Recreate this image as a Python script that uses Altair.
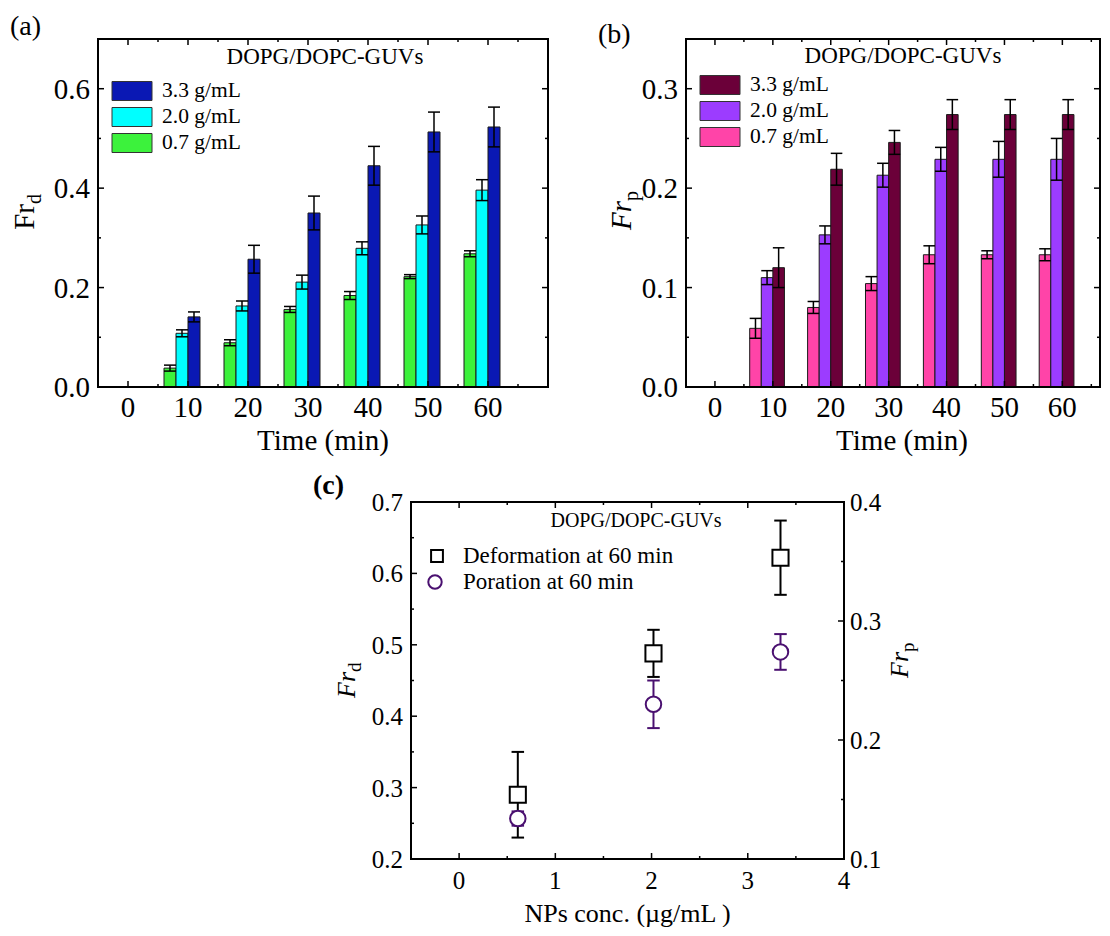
import altair as alt
import pandas as pd

SERIF = "Liberation Serif"

# ---------------- data ----------------
times = [10, 20, 30, 40, 50, 60]
conc_labels = ["0.7 g/mL", "2.0 g/mL", "3.3 g/mL"]

frd_07 = [0.038, 0.089, 0.156, 0.184, 0.222, 0.268]
frd_07_err = [0.006, 0.006, 0.006, 0.008, 0.004, 0.006]
frd_20 = [0.108, 0.163, 0.211, 0.279, 0.326, 0.396]
frd_20_err = [0.007, 0.010, 0.014, 0.013, 0.018, 0.021]
frd_33 = [0.141, 0.257, 0.350, 0.445, 0.513, 0.523]
frd_33_err = [0.010, 0.028, 0.034, 0.039, 0.040, 0.040]

frp_07 = [0.059, 0.080, 0.104, 0.133, 0.133, 0.133]
frp_07_err = [0.010, 0.006, 0.007, 0.009, 0.004, 0.006]
frp_20 = [0.110, 0.153, 0.213, 0.229, 0.229, 0.229]
frp_20_err = [0.007, 0.009, 0.012, 0.012, 0.018, 0.021]
frp_33 = [0.120, 0.219, 0.246, 0.274, 0.274, 0.274]
frp_33_err = [0.020, 0.016, 0.012, 0.015, 0.015, 0.015]

np_conc = [0.61, 2.02, 3.34]
frd_60 = [0.290, 0.488, 0.622]
frd_60_err = [0.060, 0.033, 0.052]
frp_60 = [0.134, 0.230, 0.274]
frp_60_err = [0.006, 0.020, 0.015]

time_ticks = [0, 10, 20, 30, 40, 50, 60]
time_minor = [5, 15, 25, 35, 45, 55, 65]
a_yticks = [0.0, 0.2, 0.4, 0.6]
a_yminor = [0.1, 0.3, 0.5]
b_yticks = [0.0, 0.1, 0.2, 0.3]
b_yminor = [0.05, 0.15, 0.25]
c_xticks = [0, 1, 2, 3, 4]
c_xminor = [0.5, 1.5, 2.5, 3.5]
c_ylticks = [0.2, 0.3, 0.4, 0.5, 0.6, 0.7]
c_ylminor = [0.25, 0.35, 0.45, 0.55, 0.65]
c_yrticks = [0.1, 0.2, 0.3, 0.4]
c_yrminor = [0.15, 0.25, 0.35]

colors_a = ["#3cf23c", "#00ffff", "#0a18b4"]
colors_b = ["#ff44a8", "#9c3cff", "#6b0039"]
PURPLE = "#4a1070"

# panel geometry (pixels, relative to plot origin)
PA = dict(x0=0, x1=450, y0=0, y1=348)
PB = dict(x0=588, x1=1002, y0=0, y1=348)
PC = dict(x0=313, x1=746, y0=463, y1=820)

dummy = pd.DataFrame({"a": [0]})


def txt(s, x, y, size, **kw):
    return alt.Chart(dummy).mark_text(text=s, fontSize=size, font=SERIF, color="black", **kw).encode(
        x=alt.value(x), y=alt.value(y))


def sc(dom, rng):
    return alt.Scale(domain=dom, range=rng, nice=False, zero=False)


def ticks(xs, ys, P, xmaj, xmin, ymaj, ymin, sides, L=6, l=3):
    out = []
    for vals, ln in ((xmaj, L), (xmin, l)):
        if not vals:
            continue
        base = alt.Chart(pd.DataFrame({"v": vals}))
        if "bottom" in sides:
            out.append(base.mark_rule(color="black", strokeWidth=1.5).encode(
                x=alt.X("v:Q", scale=xs, axis=None), y=alt.value(P["y1"]), y2=alt.value(P["y1"] - ln)))
        if "top" in sides:
            out.append(base.mark_rule(color="black", strokeWidth=1.5).encode(
                x=alt.X("v:Q", scale=xs, axis=None), y=alt.value(P["y0"]), y2=alt.value(P["y0"] + ln)))
    for vals, ln in ((ymaj, L), (ymin, l)):
        if not vals:
            continue
        base = alt.Chart(pd.DataFrame({"v": vals}))
        if "left" in sides:
            out.append(base.mark_rule(color="black", strokeWidth=1.5).encode(
                y=alt.Y("v:Q", scale=ys, axis=None), x=alt.value(P["x0"]), x2=alt.value(P["x0"] + ln)))
        if "right" in sides:
            out.append(base.mark_rule(color="black", strokeWidth=1.5).encode(
                y=alt.Y("v:Q", scale=ys, axis=None), x=alt.value(P["x1"]), x2=alt.value(P["x1"] - ln)))
    return out


def xlabels(xs, vals, y, size, fmt):
    return alt.Chart(pd.DataFrame({"v": vals})).mark_text(
        fontSize=size, font=SERIF, color="black", align="center", baseline="alphabetic").encode(
        x=alt.X("v:Q", scale=xs, axis=None), y=alt.value(y), text=alt.Text("v:Q", format=fmt))


def ylabels(ys, vals, x, size, align, dy):
    return alt.Chart(pd.DataFrame({"v": vals})).mark_text(
        fontSize=size, font=SERIF, color="black", align=align, baseline="middle", dy=dy).encode(
        y=alt.Y("v:Q", scale=ys, axis=None), x=alt.value(x), text=alt.Text("v:Q", format=".1f"))


def frame(xs, ys, xdom, ydom):
    df = pd.DataFrame({"x0": [xdom[0]], "x1": [xdom[1]], "y0": [ydom[0]], "y1": [ydom[1]]})
    return alt.Chart(df).mark_rect(fillOpacity=0, stroke="black", strokeWidth=2).encode(
        x=alt.X("x0:Q", scale=xs, axis=None), x2="x1:Q", y=alt.Y("y0:Q", scale=ys, axis=None), y2="y1:Q")


def bar_panel(P, vals_list, errs_list, colors, xdom, ydom, yvals, yminor, italic, panel_label,
              label_y, title_x, title_y, legend_top, ytitle, time_title_x):
    rows = []
    for k, (vals, errs) in enumerate(zip(vals_list, errs_list)):
        for t, v, e in zip(times, vals, errs):
            rows.append(dict(series=conc_labels[k], k=k, t=t, v=v, e=e))
    df = pd.DataFrame(rows)
    xs = sc(xdom, [P["x0"], P["x1"]])
    ys = sc(ydom, [P["y1"], P["y0"]])
    base = alt.Chart(df).transform_calculate(
        x0="datum.t + 2*datum.k - 4", x1="datum.t + 2*datum.k - 2", xc="datum.t + 2*datum.k - 3",
        lo="datum.v - datum.e", hi="datum.v + datum.e", zero="0")
    bars = base.mark_rect(stroke="#1a1a1a", strokeWidth=1).encode(
        x=alt.X("x0:Q", scale=xs, axis=None), x2="x1:Q",
        y=alt.Y("v:Q", scale=ys, axis=None), y2="zero:Q",
        color=alt.Color("series:N", scale=alt.Scale(domain=conc_labels, range=colors), legend=None))
    err = base.mark_rule(color="black", strokeWidth=1.5).encode(
        x=alt.X("xc:Q", scale=xs, axis=None), y=alt.Y("lo:Q", scale=ys, axis=None), y2="hi:Q")
    cap_hi = base.mark_rule(color="black", strokeWidth=1.5).encode(
        x=alt.X("x0:Q", scale=xs, axis=None), x2="x1:Q", y=alt.Y("hi:Q", scale=ys, axis=None))
    cap_lo = base.mark_rule(color="black", strokeWidth=1.5).encode(
        x=alt.X("x0:Q", scale=xs, axis=None), x2="x1:Q", y=alt.Y("lo:Q", scale=ys, axis=None))
    layers = [bars, err, cap_hi, cap_lo]
    layers += ticks(xs, ys, P, time_ticks, time_minor, yvals, yminor, ["bottom", "top", "left", "right"])
    layers.append(frame(xs, ys, xdom, ydom))
    layers.append(xlabels(xs, time_ticks, P["y1"] + 30, 29, "d"))
    layers.append(ylabels(ys, yvals, P["x0"] - 8, 29, "right", 1))
    layers.append(txt("Time (min)", P["x0"] + time_title_x, P["y1"] + 63, 29, align="center",
                      baseline="alphabetic"))
    for i, k in enumerate([2, 1, 0]):
        yc = legend_top + i * 26
        layers.append(alt.Chart(dummy).mark_rect(color=colors[k], stroke="#333333", strokeWidth=1).encode(
            x=alt.value(P["x0"] + 14), x2=alt.value(P["x0"] + 54), y=alt.value(yc - 9.5),
            y2=alt.value(yc + 9.5)))
        layers.append(txt(conc_labels[k], P["x0"] + 64, yc, 21.5, align="left", baseline="middle"))
    layers.append(txt("DOPG/DOPC-GUVs", P["x0"] + title_x, title_y, 23, align="center", baseline="middle"))
    layers.append(txt(panel_label, P["x0"] - 88, label_y, 28, align="left", baseline="alphabetic"))
    fx, sx, jy, sub = ytitle
    layers.append(txt("Fr", P["x0"] + fx, jy, 29, align="right", baseline="alphabetic", angle=270,
                      fontStyle="italic" if italic else "normal"))
    layers.append(txt(sub, P["x0"] + sx, jy, 20, align="left", baseline="alphabetic", angle=270))
    return alt.layer(*layers)


group_a = bar_panel(PA, [frd_07, frd_20, frd_33], [frd_07_err, frd_20_err, frd_33_err], colors_a,
                    [-5, 70], [0, 0.7], a_yticks, a_yminor, False, "(a)", -4, 227, 18, 52,
                    (-64, -57, 165, "d"), 225)
group_b = bar_panel(PB, [frp_07, frp_20, frp_33], [frp_07_err, frp_20_err, frp_33_err], colors_b,
                    [-5, 66.5], [0, 0.35], b_yticks, b_yminor, True, "(b)", 4, 217, 17, 46,
                    (-55, -48, 162, "p"), 216)

# ---------------- panel c ----------------
xs_c = sc([-0.5, 4], [PC["x0"], PC["x1"]])
ysl = sc([0.2, 0.7], [PC["y1"], PC["y0"]])
ysr = sc([0.1, 0.4], [PC["y1"], PC["y0"]])
cx, cy = PC["x0"], PC["y0"]

df_d = pd.DataFrame({"c": np_conc, "v": frd_60, "e": frd_60_err})
df_p = pd.DataFrame({"c": np_conc, "v": frp_60, "e": frp_60_err})
bd = alt.Chart(df_d).transform_calculate(lo="datum.v - datum.e", hi="datum.v + datum.e",
                                         x0="datum.c - 0.065", x1="datum.c + 0.065")
bp = alt.Chart(df_p).transform_calculate(lo="datum.v - datum.e", hi="datum.v + datum.e",
                                         x0="datum.c - 0.065", x1="datum.c + 0.065")

left_layers = [
    bd.mark_rule(color="black", strokeWidth=2).encode(
        x=alt.X("c:Q", scale=xs_c, axis=None), y=alt.Y("lo:Q", scale=ysl, axis=None), y2="hi:Q"),
    bd.mark_rule(color="black", strokeWidth=2).encode(
        x=alt.X("x0:Q", scale=xs_c, axis=None), x2="x1:Q", y=alt.Y("hi:Q", scale=ysl, axis=None)),
    bd.mark_rule(color="black", strokeWidth=2).encode(
        x=alt.X("x0:Q", scale=xs_c, axis=None), x2="x1:Q", y=alt.Y("lo:Q", scale=ysl, axis=None)),
    bd.mark_point(shape="square", size=260, filled=True, fill="white", stroke="black", strokeWidth=2,
                  opacity=1).encode(
        x=alt.X("c:Q", scale=xs_c, axis=None), y=alt.Y("v:Q", scale=ysl, axis=None)),
]
left_layers += ticks(xs_c, ysl, PC, c_xticks, c_xminor, c_ylticks, c_ylminor, ["bottom", "top", "left"])
left_layers += [
    frame(xs_c, ysl, [-0.5, 4], [0.2, 0.7]),
    xlabels(xs_c, c_xticks, PC["y1"] + 30, 25, "d"),
    ylabels(ysl, c_ylticks, PC["x0"] - 8, 25, "right", 1),
    txt("NPs conc. (µg/mL )", (PC["x0"] + PC["x1"]) / 2, PC["y1"] + 63, 26, align="center",
        baseline="alphabetic"),
    txt("DOPG/DOPC-GUVs", cx + 225, cy + 19, 20, align="center", baseline="middle"),
    alt.Chart(dummy).mark_point(shape="square", size=140, filled=False, stroke="black", strokeWidth=2,
                                opacity=1).encode(x=alt.value(cx + 26), y=alt.value(cy + 54)),
    alt.Chart(dummy).mark_point(shape="circle", size=180, filled=False, stroke=PURPLE, strokeWidth=2,
                                opacity=1).encode(x=alt.value(cx + 24), y=alt.value(cy + 80)),
    txt("Deformation at 60 min", cx + 52, cy + 54, 23, align="left", baseline="middle"),
    txt("Poration at 60 min", cx + 52, cy + 80, 23, align="left", baseline="middle"),
    txt("(c)", cx - 98, cy - 8, 28, align="left", baseline="alphabetic", fontWeight="bold"),
    txt("Fr", cx - 56, cy + 170, 26, align="right", baseline="alphabetic", angle=270, fontStyle="italic"),
    txt("d", cx - 50, cy + 170, 19, align="left", baseline="alphabetic", angle=270),
    txt("Fr", PC["x1"] + 64, cy + 150, 26, align="right", baseline="alphabetic", angle=270,
        fontStyle="italic"),
    txt("p", PC["x1"] + 70, cy + 150, 19, align="left", baseline="alphabetic", angle=270),
]
right_layers = [
    bp.mark_rule(color=PURPLE, strokeWidth=2).encode(
        x=alt.X("c:Q", scale=xs_c, axis=None), y=alt.Y("lo:Q", scale=ysr, axis=None), y2="hi:Q"),
    bp.mark_rule(color=PURPLE, strokeWidth=2).encode(
        x=alt.X("x0:Q", scale=xs_c, axis=None), x2="x1:Q", y=alt.Y("hi:Q", scale=ysr, axis=None)),
    bp.mark_rule(color=PURPLE, strokeWidth=2).encode(
        x=alt.X("x0:Q", scale=xs_c, axis=None), x2="x1:Q", y=alt.Y("lo:Q", scale=ysr, axis=None)),
    bp.mark_point(shape="circle", size=240, filled=True, fill="white", stroke=PURPLE, strokeWidth=2,
                  opacity=1).encode(
        x=alt.X("c:Q", scale=xs_c, axis=None), y=alt.Y("v:Q", scale=ysr, axis=None)),
    ylabels(ysr, c_yrticks, PC["x1"] + 6, 25, "left", 1),
]
right_layers += ticks(xs_c, ysr, PC, [], [], [0.2, 0.3], [0.15, 0.25, 0.35], ["right"])

group_cl = alt.layer(*left_layers)
group_cr = alt.layer(*right_layers)

chart = alt.layer(group_a, group_b, group_cl, group_cr).resolve_scale(
    x="independent", y="independent", color="independent").properties(
    width=PB["x1"], height=PC["y1"],
    padding={"left": 2, "top": 5, "right": 0, "bottom": 0}).configure_view(strokeWidth=0)

chart.save("out.html", embed_options={"renderer": "svg", "actions": False})
